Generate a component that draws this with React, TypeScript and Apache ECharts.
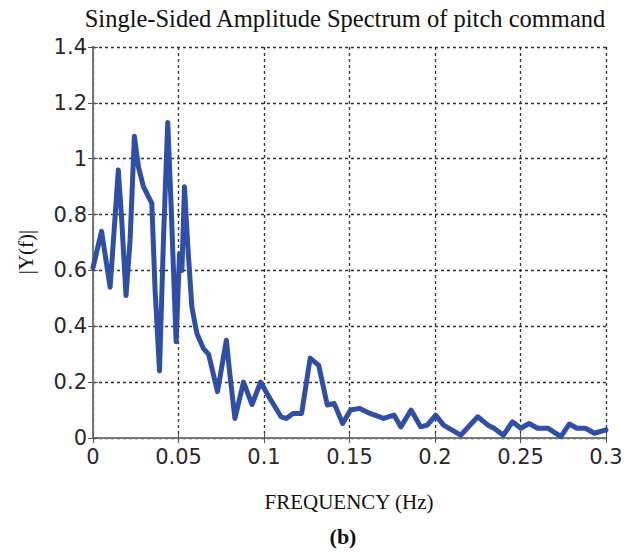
import React, { useEffect, useRef } from "react";
import * as echarts from "echarts";

const freq = [
  0, 0.005, 0.01, 0.013, 0.0148, 0.0168, 0.0193, 0.0217, 0.0242, 0.0266, 0.0295, 0.0344, 0.0363,
  0.0389, 0.0412, 0.0437, 0.0457, 0.0486, 0.0506, 0.052, 0.0535, 0.0553, 0.0578, 0.0607, 0.0646,
  0.0676, 0.0728, 0.078, 0.08, 0.083, 0.088, 0.093, 0.098, 0.104, 0.11, 0.113, 0.117, 0.122,
  0.127, 0.132, 0.137, 0.141, 0.146, 0.1506, 0.156, 0.162, 0.17, 0.176, 0.18, 0.186, 0.1916,
  0.1955, 0.2004, 0.205, 0.215, 0.225, 0.231, 0.2345, 0.24, 0.2453, 0.2502, 0.255, 0.26, 0.266,
  0.2736, 0.2785, 0.283, 0.288, 0.2932, 0.3,
];
const amplitude = [
  0.61, 0.74, 0.54, 0.8, 0.96, 0.78, 0.51, 0.71, 1.08, 0.97, 0.9, 0.84, 0.53,
  0.24, 0.71, 1.13, 0.83, 0.345, 0.66, 0.6, 0.9, 0.7, 0.47, 0.375, 0.32,
  0.3, 0.166, 0.35, 0.23, 0.07, 0.2, 0.12, 0.2, 0.136, 0.076, 0.07, 0.088, 0.088,
  0.286, 0.26, 0.118, 0.124, 0.052, 0.1, 0.106, 0.088, 0.07, 0.082, 0.04, 0.1, 0.04,
  0.046, 0.082, 0.046, 0.01, 0.076, 0.046, 0.035, 0.01, 0.058, 0.035, 0.052, 0.035, 0.035,
  0.005, 0.05, 0.035, 0.035, 0.017, 0.029,
];
const xTickLabels = ["0", "0.05", "0.1", "0.15", "0.2", "0.25", "0.3"];
const yTickLabels = ["0", "0.2", "0.4", "0.6", "0.8", "1", "1.2", "1.4"];

const titleText = "Single-Sided Amplitude Spectrum of pitch command";
const xLabelText = "FREQUENCY (Hz)";
const yLabelText = "|Y(f)|";
const panelText = "(b)";

export default function App() {
  const ref = useRef<HTMLDivElement>(null);
  useEffect(() => {
    if (!ref.current) return;
    const chart = echarts.init(ref.current, undefined, { renderer: "svg" });
    const tickFont = {
      fontFamily: "DejaVu Sans",
      fontSize: 21,
      color: "#2a2828",
    };
    const axisLine = { show: true, lineStyle: { color: "#777", width: 2 } };
    const axisTick = { show: true, inside: true, length: 5, lineStyle: { color: "#555", width: 1 } };
    const splitLine = { show: true, lineStyle: { color: "#333", width: 1.3, type: [3, 3] as any } };
    const option: any = {
      animation: false,
      backgroundColor: "#fff",
      grid: { left: 93, right: 33, top: 47, bottom: 114, containLabel: false },
      xAxis: [
        {
          type: "value",
          min: 0,
          max: 0.3,
          interval: 0.05,
          position: "bottom",
          axisLine,
          axisTick,
          splitLine,
          axisLabel: {
            ...tickFont,
            margin: 8,
            formatter: (_v: number, i: number) => xTickLabels[i],
          },
        },
        {
          type: "value",
          min: 0,
          max: 0.3,
          interval: 0.05,
          position: "top",
          axisLine,
          axisTick,
          splitLine: { show: false },
          axisLabel: { show: false },
        },
      ],
      yAxis: [
        {
          type: "value",
          min: 0,
          max: 1.4,
          interval: 0.2,
          position: "left",
          axisLine,
          axisTick,
          splitLine,
          axisLabel: {
            ...tickFont,
            margin: 6,
            formatter: (_v: number, i: number) => yTickLabels[i],
          },
        },
        {
          type: "value",
          min: 0,
          max: 1.4,
          interval: 0.2,
          position: "right",
          axisLine,
          axisTick,
          splitLine: { show: false },
          axisLabel: { show: false },
        },
      ],
      series: [
        {
          type: "line",
          xAxisIndex: 0,
          yAxisIndex: 0,
          showSymbol: false,
          symbol: "none",
          data: freq.map((f, i) => [f, amplitude[i]]),
          lineStyle: { color: "#2f4fa6", width: 5, join: "round", cap: "round" },
        },
      ],
      graphic: [
        {
          type: "text",
          x: 345,
          y: 18,
          style: {
            text: titleText,
            fontFamily: "Liberation Serif",
            fontSize: 24.5,
            fill: "#111",
            textAlign: "center",
            textVerticalAlign: "middle",
          },
        },
        {
          type: "text",
          x: 349,
          y: 502,
          style: {
            text: xLabelText,
            fontFamily: "Liberation Serif",
            fontSize: 21,
            fill: "#111",
            textAlign: "center",
            textVerticalAlign: "middle",
          },
        },
        {
          type: "text",
          x: 343,
          y: 536,
          style: {
            text: panelText,
            fontFamily: "Liberation Serif",
            fontSize: 22,
            fontWeight: "bold",
            fill: "#111",
            textAlign: "center",
            textVerticalAlign: "middle",
          },
        },
        {
          type: "text",
          x: 26,
          y: 252,
          rotation: Math.PI / 2,
          style: {
            text: yLabelText,
            fontFamily: "Liberation Serif",
            fontSize: 21,
            fill: "#111",
            textAlign: "center",
            textVerticalAlign: "middle",
          },
        },
      ],
    };
    chart.setOption(option);
    return () => chart.dispose();
  }, []);
  return (
    <div
      ref={ref}
      style={{ position: "fixed", left: 0, top: 0, width: 639, height: 552, background: "#fff" }}
    />
  );
}
